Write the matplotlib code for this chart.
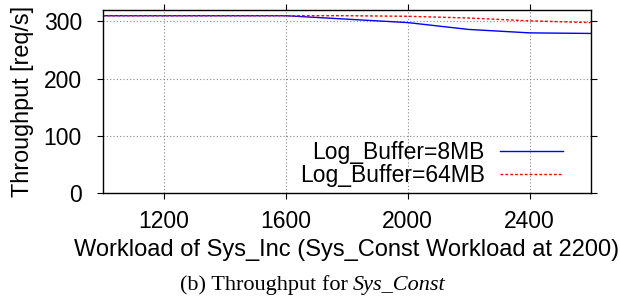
import numpy as np
import matplotlib.pyplot as plt

workload = [1000, 1200, 1400, 1600, 1800, 2000, 2200, 2400, 2600]
buf_8mb = [310, 310, 310, 310, 304, 298, 286, 280, 279]
buf_64mb = [310, 310, 310, 310, 310, 309, 306, 301, 298]

plt.rcParams['font.family'] = ['Liberation Sans', 'DejaVu Sans']

fig = plt.figure(figsize=(6.2, 2.97), dpi=100)
ax = fig.add_axes([102.7/620, 1 - 193/297, 488/620, 183/297])

ax.plot(workload, buf_8mb, color='#0000ff', lw=1.0, label='Log_Buffer=8MB')
ax.plot(workload, buf_64mb, color='#ff0000', lw=1.0, ls=(0, (2, 1.5)), label='Log_Buffer=64MB')

ax.set_xlim(1000, 2600)
ax.set_ylim(0, 320)
ax.set_xticks([1200, 1600, 2000, 2400])
ax.set_yticks([0, 100, 200, 300])
ax.tick_params(direction='out', top=True, right=True, labelsize=16.5, length=4)
ax.tick_params(axis='x', pad=8.5)
ax.tick_params(axis='y', pad=11)
ax.grid(True, color='#888888', ls=(0, (1, 2)), lw=0.8)
for s in ax.spines.values():
    s.set_linewidth(1.0)

ax.set_xlabel('Workload of Sys_Inc (Sys_Const Workload at 2200)', fontsize=17)
ax.xaxis.set_label_coords(0.5, (193 - 250) / 183)
ax.xaxis.label.set_va('center')
ax.set_ylabel('Throughput [req/s]', fontsize=16.8)
ax.yaxis.set_label_coords((22.5 - 102.7) / 488, 0.5)
ax.yaxis.label.set_va('center')

leg = ax.legend(loc='center right', bbox_to_anchor=(0.943, 0.16), markerfirst=False,
                frameon=False, fontsize=16.5, handlelength=2.75, handletextpad=0.66,
                borderpad=0, borderaxespad=0, labelspacing=0)
for t in leg.get_texts():
    t.set_ha('right')

fig.text(353/620, 1 - 290/297, '(b) Throughput for ', fontsize=16, family='Liberation Serif',
         ha='right', va='baseline')
fig.text(353/620, 1 - 290/297, 'Sys_Const', fontsize=16, family='Liberation Serif',
         style='italic', ha='left', va='baseline')

fig.savefig('out.png', dpi=100)
